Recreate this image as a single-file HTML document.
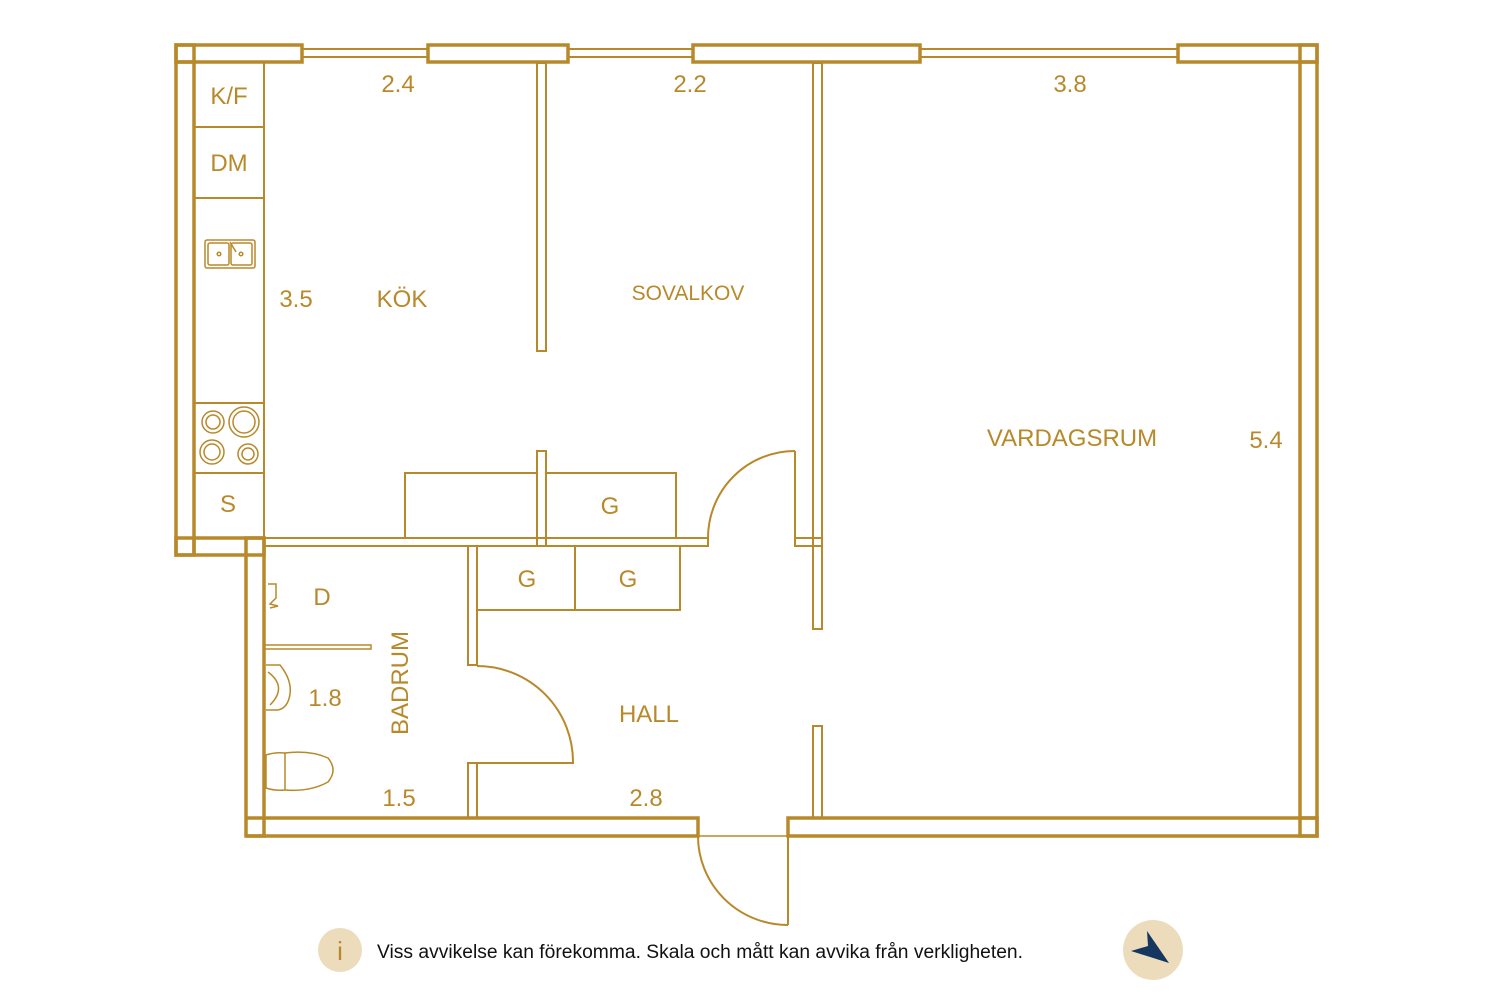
<!DOCTYPE html>
<html><head><meta charset="utf-8"><style>
html,body{margin:0;padding:0;background:#fff;}
svg{display:block;}
text{font-family:"Liberation Sans",sans-serif;fill:#b8892a;}
</style></head><body>
<svg width="1500" height="1000" viewBox="0 0 1500 1000" xmlns="http://www.w3.org/2000/svg">
<g fill="none" stroke="#b8892a">
 <g stroke-width="3.5">
  <rect x="176" y="45" width="126" height="17"/>
  <rect x="428" y="45" width="140" height="17"/>
  <rect x="693" y="45" width="227" height="17"/>
  <rect x="1178" y="45" width="139" height="17"/>
  <rect x="176" y="45" width="18" height="510"/>
  <line x1="176" y1="62" x2="194" y2="62"/>
  <rect x="176" y="538" width="88" height="17"/>
  <line x1="194" y1="538" x2="194" y2="555"/>
  <rect x="246" y="538" width="18" height="298"/>
  <line x1="246" y1="818" x2="264" y2="818"/>
  <polyline points="264,818 698,818 698,836 246,836"/>
  <rect x="788" y="818" width="529" height="18"/>
  <rect x="1300" y="45" width="17" height="791"/>
  <line x1="1300" y1="62" x2="1317" y2="62"/>
  <line x1="1300" y1="818" x2="1317" y2="818"/>
 </g>
 <g stroke-width="2">
  <line x1="302" y1="49" x2="428" y2="49"/><line x1="302" y1="57" x2="428" y2="57"/>
  <line x1="568" y1="49" x2="693" y2="49"/><line x1="568" y1="57" x2="693" y2="57"/>
  <line x1="920" y1="49" x2="1178" y2="49"/><line x1="920" y1="57" x2="1178" y2="57"/>
 </g>
 <g stroke-width="2">
  <line x1="264" y1="62" x2="264" y2="538"/>
  <line x1="194" y1="127" x2="264" y2="127"/>
  <line x1="194" y1="198" x2="264" y2="198"/>
  <line x1="194" y1="403" x2="264" y2="403"/>
  <line x1="194" y1="473" x2="264" y2="473"/>
  <rect x="537" y="63" width="9" height="288"/>
  <rect x="537" y="451" width="9" height="95"/>
  <rect x="813" y="63" width="9" height="566"/>
  <rect x="813" y="726" width="9" height="92"/>
  <rect x="264" y="538" width="444" height="8"/>
  <rect x="795" y="538" width="27" height="8"/>
  <line x1="795" y1="451" x2="795" y2="546"/>
  <path d="M708,538 A87,87 0 0 1 795,451"/>
  <rect x="468" y="546" width="9" height="119"/>
  <rect x="468" y="763" width="9" height="55"/>
  <path d="M477,666 A96,96 0 0 1 573,763 L477,763"/>
  <polyline points="405,538 405,473 537,473"/>
  <polyline points="546,473 676,473 676,538"/>
  <rect x="477" y="546" width="203" height="64"/>
  <line x1="575" y1="546" x2="575" y2="610"/>
  <line x1="698" y1="836" x2="788" y2="836" stroke-width="1.5"/>
  <line x1="788" y1="836" x2="788" y2="925"/>
  <path d="M698,836 A90,89 0 0 0 788,925"/>
  <rect x="264" y="645" width="107" height="4" stroke-width="1.5"/>
 </g>
 <g stroke-width="1.5">
  <rect x="205" y="240" width="50" height="28" rx="2"/>
  <rect x="208" y="243" width="21" height="22" rx="2"/>
  <rect x="231" y="243" width="21" height="22" rx="2"/>
  <circle cx="219" cy="254" r="1.8"/><circle cx="241" cy="254" r="1.8"/>
  <line x1="230" y1="242" x2="236" y2="252"/>
  <circle cx="213" cy="422" r="11"/><circle cx="213" cy="422" r="7"/>
  <circle cx="244" cy="422" r="15"/><circle cx="244" cy="422" r="11"/>
  <circle cx="212" cy="452" r="12"/><circle cx="212" cy="452" r="8"/>
  <circle cx="248" cy="454" r="10"/><circle cx="248" cy="454" r="6"/>
  <path d="M266,665 L280,665 Q292,680 290,694 Q288,708 278,710 L266,710"/>
  <path d="M268,672 Q288,687 270,705"/>
  <path d="M266,755 Q275,752 285,753 L285,790 Q275,791 266,788 Z"/>
  <path d="M285,753 Q310,750 328,758 Q338,770 328,782 Q310,792 285,790"/>
  <path d="M268,584 L276,584 L276,598 L270,604 L278,606 L270,608"/>
 </g>
</g>
<g font-size="24">
 <text x="229" y="104" text-anchor="middle">K/F</text>
 <text x="229" y="171" text-anchor="middle">DM</text>
 <text x="228" y="512" text-anchor="middle">S</text>
 <text x="398" y="92" text-anchor="middle">2.4</text>
 <text x="690" y="92" text-anchor="middle">2.2</text>
 <text x="1070" y="92" text-anchor="middle">3.8</text>
 <text x="296" y="307" text-anchor="middle">3.5</text>
 <text x="402" y="307" text-anchor="middle">KÖK</text>
 <text x="688" y="300" text-anchor="middle" font-size="21">SOVALKOV</text>
 <text x="1072" y="446" text-anchor="middle">VARDAGSRUM</text>
 <text x="1266" y="448" text-anchor="middle">5.4</text>
 <text x="610" y="514" text-anchor="middle">G</text>
 <text x="527" y="587" text-anchor="middle">G</text>
 <text x="628" y="587" text-anchor="middle">G</text>
 <text x="322" y="605" text-anchor="middle">D</text>
 <text x="325" y="706" text-anchor="middle">1.8</text>
 <text x="399" y="806" text-anchor="middle">1.5</text>
 <text x="646" y="806" text-anchor="middle">2.8</text>
 <text x="649" y="722" text-anchor="middle">HALL</text>
 <text transform="translate(408,683) rotate(-90)" text-anchor="middle">BADRUM</text>
</g>
<circle cx="340" cy="950" r="22" fill="#ecdcbc"/>
<text x="340" y="960" text-anchor="middle" font-size="26" style="fill:#b8892a">i</text>
<text x="377" y="958" font-size="19" textLength="646" lengthAdjust="spacingAndGlyphs" style="fill:#111">Viss avvikelse kan förekomma. Skala och mått kan avvika från verkligheten.</text>
<circle cx="1153" cy="950" r="30" fill="#ecdcbc"/>
<path d="M1147,931 L1169,963 L1131,951 L1148,946 Z" fill="#15365f"/>
</svg>
</body></html>
